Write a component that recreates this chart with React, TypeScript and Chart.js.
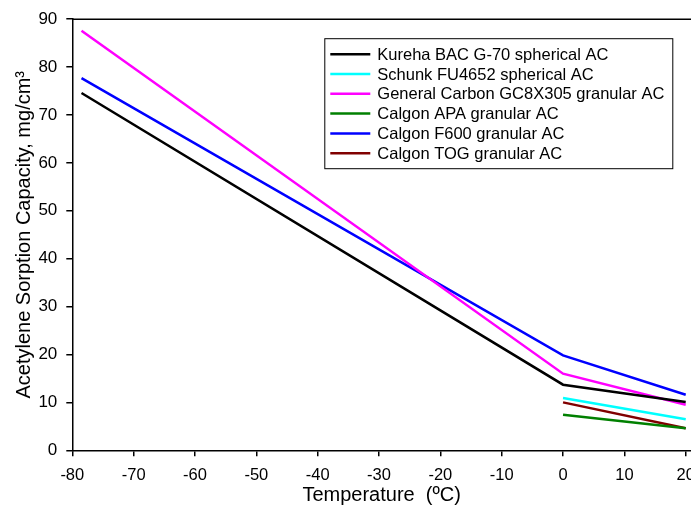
import React, { useEffect, useRef } from "react";
import { Chart, registerables } from "chart.js";

Chart.register(...registerables);

// ---- data ----
const tempsWithDryIce = [-78.5, 0, 20];
const tempsAmbient = [0, 20];

const seriesLabels = [
  "Kureha BAC G-70 spherical AC",
  "Schunk FU4652 spherical AC",
  "General Carbon GC8X305 granular AC",
  "Calgon APA granular AC",
  "Calgon F600 granular AC",
  "Calgon TOG granular AC",
];

const kureha = [74.6, 13.7, 10.1];
const schunk = [10.9, 6.5];
const generalCarbon = [87.6, 16.0, 9.5];
const calgonAPA = [7.4, 4.6];
const calgonF600 = [77.7, 19.8, 11.6];
const calgonTOG = [10.0, 4.6];

const xTickValues = [-80, -70, -60, -50, -40, -30, -20, -10, 0, 10, 20];
const yTickValues = [0, 10, 20, 30, 40, 50, 60, 70, 80, 90];

const seriesColors = ["#000000", "#00FFFF", "#FF00FF", "#008000", "#0000FF", "#800000"];

const FONT = "'Liberation Sans', Arial, Helvetica, sans-serif";

function toPoints(xs: number[], ys: number[]) {
  return ys.map((y, i) => ({ x: xs[i], y }));
}

const topBorderPlugin = {
  id: "topBorder",
  afterDraw(chart: any) {
    const { ctx, chartArea } = chart;
    ctx.save();
    ctx.strokeStyle = "#000";
    ctx.lineWidth = 1.5;
    ctx.beginPath();
    ctx.moveTo(chartArea.left, chartArea.top);
    ctx.lineTo(chartArea.right, chartArea.top);
    ctx.stroke();
    ctx.restore();
  },
};

const boxedLegendPlugin = {
  id: "boxedLegend",
  afterDraw(chart: any) {
    const { ctx, chartArea } = chart;
    const left = chartArea.left + 252;
    const top = chartArea.top + 19;
    const width = 348;
    const height = 130;
    const rowH = 19.8;
    const firstRow = top + 16;
    ctx.save();
    ctx.fillStyle = "#fff";
    ctx.fillRect(left, top, width, height);
    ctx.strokeStyle = "#000";
    ctx.lineWidth = 1;
    ctx.strokeRect(left + 0.5, top + 0.5, width, height);
    ctx.font = `16.5px ${FONT}`;
    ctx.textBaseline = "middle";
    ctx.textAlign = "left";
    chart.data.datasets.forEach((ds: any, i: number) => {
      const y = firstRow + i * rowH;
      ctx.strokeStyle = ds.borderColor;
      ctx.lineWidth = 2.5;
      ctx.beginPath();
      ctx.moveTo(left + 6, y);
      ctx.lineTo(left + 46, y);
      ctx.stroke();
      ctx.fillStyle = "#000";
      ctx.fillText(ds.label, left + 53, y + 1);
    });
    ctx.restore();
  },
};

export default function App() {
  const canvasRef = useRef<HTMLCanvasElement | null>(null);

  useEffect(() => {
    if (!canvasRef.current) return;
    const seriesData = [
      toPoints(tempsWithDryIce, kureha),
      toPoints(tempsAmbient, schunk),
      toPoints(tempsWithDryIce, generalCarbon),
      toPoints(tempsAmbient, calgonAPA),
      toPoints(tempsWithDryIce, calgonF600),
      toPoints(tempsAmbient, calgonTOG),
    ];
    const chart = new Chart(canvasRef.current, {
      type: "line",
      data: {
        datasets: seriesData.map((d, i) => ({
          label: seriesLabels[i],
          data: d,
          borderColor: seriesColors[i],
          backgroundColor: seriesColors[i],
          borderWidth: 2.5,
          pointRadius: 0,
          fill: false,
          tension: 0,
        })),
      },
      options: {
        animation: false,
        responsive: false,
        devicePixelRatio: 1,
        layout: { padding: { left: 0, top: 12.7, right: 19, bottom: 0 } },
        plugins: { legend: { display: false }, tooltip: { enabled: false } },
        scales: {
          x: {
            type: "linear",
            min: -80,
            max: 20.86,
            afterBuildTicks: (scale: any) => {
              scale.ticks = xTickValues.map((v) => ({ value: v }));
            },
            afterFit: (scale: any) => {
              scale.height = 57.7;
            },
            ticks: {
              autoSkip: false,
              maxRotation: 0,
              padding: 9,
              color: "#000",
              font: { family: FONT, size: 16.5 },
            },
            grid: { drawOnChartArea: false, drawTicks: true, tickLength: 6, color: "#000", lineWidth: 1.5 },
            border: { display: true, color: "#000", width: 1.5 },
            title: {
              display: true,
              text: "Temperature  (ºC)",
              color: "#000",
              font: { family: FONT, size: 20 },
              padding: { top: 0, bottom: 1 },
            },
          },
          y: {
            type: "linear",
            min: 0,
            max: 90,
            afterBuildTicks: (scale: any) => {
              scale.ticks = yTickValues.map((v) => ({ value: v }));
            },
            afterFit: (scale: any) => {
              scale.width = 72.3;
            },
            ticks: {
              padding: 9,
              color: "#000",
              font: { family: FONT, size: 17 },
            },
            grid: { drawOnChartArea: false, drawTicks: true, tickLength: 6, color: "#000", lineWidth: 1.5 },
            border: { display: true, color: "#000", width: 1.5 },
            title: {
              display: true,
              text: "Acetylene Sorption Capacity, mg/cm³",
              color: "#000",
              font: { family: FONT, size: 20 },
              padding: { top: 12, bottom: 0 },
            },
          },
        },
      },
      plugins: [topBorderPlugin, boxedLegendPlugin],
    });
    return () => chart.destroy();
  }, []);

  return (
    <div style={{ position: "absolute", left: 0, top: 0, width: 691, height: 508, overflow: "hidden", background: "#fff" }}>
      <canvas ref={canvasRef} width={710} height={508} style={{ display: "block" }} />
    </div>
  );
}
